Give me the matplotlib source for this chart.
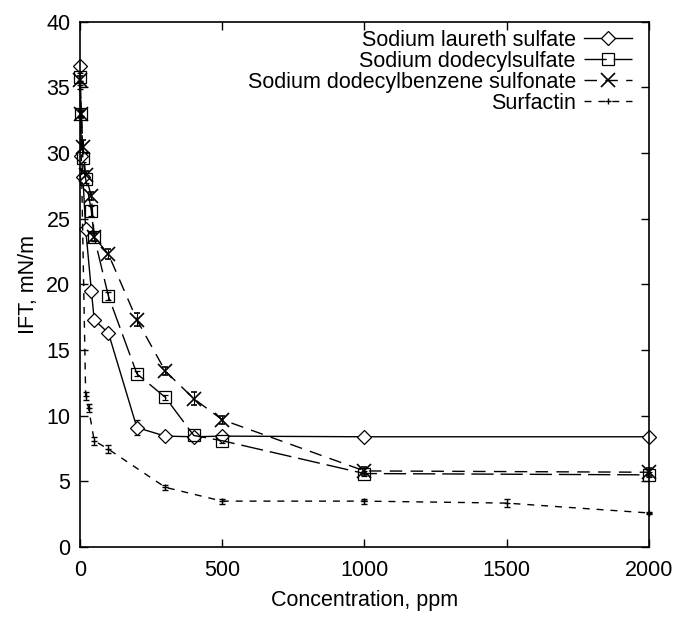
import matplotlib
matplotlib.use("Agg")
import matplotlib.pyplot as plt
from matplotlib.lines import Line2D

plt.rcParams['font.family'] = ['Liberation Sans', 'DejaVu Sans']

# Sodium laureth sulfate
x_sles = [0, 5, 10, 20, 40, 50, 100, 200, 300, 400, 500, 1000, 2000]
y_sles = [36.6, 29.8, 28.2, 24.2, 19.5, 17.3, 16.3, 9.1, 8.45, 8.4, 8.45, 8.4, 8.4]
e_sles = [0.3, 0.3, 0.3, 0.3, 0.3, 0.3, 0.3, 0.6, 0.2, 0.2, 0.2, 0.1, 0.1]

# Sodium dodecylsulfate
x_sds = [0, 5, 10, 20, 40, 50, 100, 200, 300, 400, 500, 1000, 2000]
y_sds = [35.8, 33.0, 29.6, 28.0, 25.6, 23.6, 19.1, 13.2, 11.4, 8.5, 8.1, 5.6, 5.5]
e_sds = [0.3, 0.2, 0.3, 0.3, 0.4, 0.3, 0.3, 0.2, 0.2, 0.2, 0.2, 0.2, 0.2]

# Sodium dodecylbenzene sulfonate
x_sdbs = [0, 5, 10, 20, 40, 50, 100, 200, 300, 400, 500, 1000, 2000]
y_sdbs = [35.6, 33.0, 30.5, 28.3, 26.7, 23.6, 22.3, 17.3, 13.4, 11.3, 9.7, 5.8, 5.7]
e_sdbs = [0.3, 0.3, 0.5, 0.3, 0.3, 0.3, 0.4, 0.5, 0.3, 0.5, 0.3, 0.3, 0.3]

# Surfactin
x_surf = [0, 20, 30, 50, 100, 300, 500, 1000, 1500, 2000]
y_surf = [35.2, 11.5, 10.6, 8.1, 7.45, 4.55, 3.5, 3.5, 3.35, 2.6]
e_surf = [0.3, 0.3, 0.3, 0.3, 0.3, 0.2, 0.2, 0.2, 0.3, 0.1]

labels = ['Sodium laureth sulfate', 'Sodium dodecylsulfate',
          'Sodium dodecylbenzene sulfonate', 'Surfactin']

styles = [
    dict(ls='-', marker='D', ms=7, mfc='white', mec='black', mew=0.9),
    dict(ls=(0, (16, 5)), marker='s', ms=9, mfc='none', mec='black', mew=0.9),
    dict(ls=(0, (9, 6)), marker='x', ms=10, mec='black', mew=1.2),
    dict(ls=(0, (5, 5)), marker='+', ms=4, mec='black', mew=1),
]

fig = plt.figure(figsize=(6.78, 6.21), dpi=100)
ax = fig.add_axes([0.118, 0.119, 0.839, 0.846])

series = [(x_sles, y_sles, e_sles), (x_sds, y_sds, e_sds),
          (x_sdbs, y_sdbs, e_sdbs), (x_surf, y_surf, e_surf)]
for (xs, ys, es), st in zip(series, styles):
    ax.errorbar(xs, ys, yerr=es, color='black', lw=1, capsize=2,
                elinewidth=0.8, clip_on=False, **st)

ax.set_xlim(0, 2000)
ax.set_ylim(0, 40)
ax.set_xticks([0, 500, 1000, 1500, 2000])
ax.set_yticks(range(0, 41, 5))
ax.tick_params(direction='in', top=True, right=True, length=6, width=1,
               labelsize=15.5)
ax.tick_params(axis='x', pad=9)
ax.tick_params(axis='y', pad=7)
for s in ax.spines.values():
    s.set_linewidth(1.2)

ax.set_xlabel('Concentration, ppm', fontsize=15.5, labelpad=7)
ax.set_ylabel('IFT, mN/m', fontsize=15.5, labelpad=5)

handles = [Line2D([], [], color='black', lw=1, **st) for st in styles]
ax.legend(handles, labels, loc='upper right', frameon=False, markerfirst=False,
          fontsize=15.5, handlelength=2.2, handletextpad=0.4, labelspacing=0.0,
          borderpad=0, borderaxespad=0, bbox_to_anchor=(0.97, 0.985))

fig.savefig('out.png', dpi=100)
